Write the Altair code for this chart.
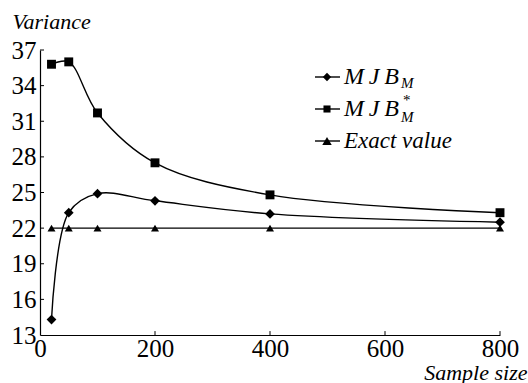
import altair as alt
import pandas as pd

sample_sizes = [20, 50, 100, 200, 400, 800]
mjb_m = [14.3, 23.3, 24.9, 24.3, 23.2, 22.5]
mjb_m_star = [35.8, 36.0, 31.7, 27.5, 24.8, 23.3]
exact_value = [22.0, 22.0, 22.0, 22.0, 22.0, 22.0]
series_names = ["MJB_M", "MJB*_M", "Exact value"]
series_shapes = ["diamond", "square", "triangle-up"]
y_ticks = [13, 16, 19, 22, 25, 28, 31, 34, 37]
x_ticks = [0, 200, 400, 600, 800]

rows = []
for name, vals in zip(series_names, [mjb_m, mjb_m_star, exact_value]):
    for x, v in zip(sample_sizes, vals):
        rows.append({"n": x, "v": v, "s": name})
df = pd.DataFrame(rows)
one = pd.DataFrame({"a": [0]})

FONT = "Liberation Serif"

xs = alt.Scale(domain=[0, 800], nice=False, zero=False)
ys = alt.Scale(domain=[13, 37], nice=False, zero=False)

x_axis = alt.Axis(values=x_ticks, title="Sample size", titleFont=FONT, titleFontStyle="italic",
                  titleFontWeight="normal", titleFontSize=22, titleColor="black",
                  titleX=487, titleY=44, titleAlign="right", titleBaseline="alphabetic",
                  labelFont=FONT, labelFontSize=25, labelColor="black", labelPadding=1,
                  labelOverlap=False, tickSize=0, grid=False, domainColor="black",
                  domainWidth=1.2, labelFlush=False)
y_axis = alt.Axis(values=y_ticks, title="Variance", titleFont=FONT, titleFontStyle="italic",
                  titleFontWeight="normal", titleFontSize=22, titleColor="black",
                  titleX=-28, titleY=-22, titleAngle=0, titleAlign="left", titleBaseline="alphabetic",
                  labelFont=FONT, labelFontSize=25, labelColor="black", labelPadding=4,
                  labelOverlap=False, tickSize=0, grid=False, domainColor="black",
                  domainWidth=1.2, labelFlush=False)

base = alt.Chart(df)

lines = base.mark_line(color="black", strokeWidth=1.4, interpolate="catmull-rom").encode(
    x=alt.X("n:Q", scale=xs, axis=x_axis),
    y=alt.Y("v:Q", scale=ys, axis=y_axis),
    detail="s:N",
)

points = base.mark_point(filled=True, color="black", opacity=1).encode(
    x=alt.X("n:Q", scale=xs, axis=x_axis),
    y=alt.Y("v:Q", scale=ys, axis=y_axis),
    shape=alt.Shape("s:N", scale=alt.Scale(domain=series_names, range=series_shapes), legend=None),
    size=alt.Size("s:N", scale=alt.Scale(domain=series_names, range=[95, 64, 120]), legend=None),
)

xt = pd.DataFrame({"t": x_ticks[1:]})
xtick_layer = alt.Chart(xt).mark_rule(color="black", strokeWidth=1).encode(
    x=alt.X("t:Q", scale=xs, axis=x_axis), y=alt.datum(13, axis=y_axis), y2=alt.datum(13.33))
yt = pd.DataFrame({"t": y_ticks[1:]})
ytick_layer = alt.Chart(yt).mark_rule(color="black", strokeWidth=1).encode(
    y=alt.Y("t:Q", scale=ys, axis=y_axis), x=alt.datum(0, axis=x_axis), x2=alt.datum(7))

legend_layers = []
leg_y = [27, 59, 91]  # pixel rows relative to plot top
for i, (name, shape, sz) in enumerate(zip(series_names, series_shapes, [70, 50, 90])):
    yy = leg_y[i]
    legend_layers.append(alt.Chart(one).mark_rule(color="black", strokeWidth=1.4).encode(
        x=alt.value(275), x2=alt.value(300), y=alt.value(yy)))
    legend_layers.append(alt.Chart(one).mark_point(filled=True, color="black", opacity=1, shape=shape, size=sz).encode(
        x=alt.value(287), y=alt.value(yy)))


def txt(t, x, y, size, italic=True):
    kw = dict(text=t, font=FONT, fontSize=size, align="left", baseline="alphabetic", color="black")
    if italic:
        kw["fontStyle"] = "italic"
    return alt.Chart(one).mark_text(**kw).encode(x=alt.value(x), y=alt.value(y))


MJB = "M\u2009J\u2009B"
legend_text = [
    txt(MJB, 304, leg_y[0] + 7, 24),
    txt("M", 361, leg_y[0] + 11, 15),
    txt(MJB, 304, leg_y[1] + 7, 24),
    txt("*", 363, leg_y[1] - 4, 15, italic=False),
    txt("M", 361, leg_y[1] + 13, 15),
    txt("Exact value", 304, leg_y[2] + 7, 23),
]

chart = alt.layer(lines, points, xtick_layer, ytick_layer, *legend_layers, *legend_text).properties(
    width=460, height=285,
    autosize=alt.AutoSizeParams(type="none"),
    padding={"left": 40, "top": 50, "right": 28, "bottom": 48},
    background="white",
).configure_view(stroke=None)

chart.save("out.html", embed_options={"renderer": "svg", "actions": False})
